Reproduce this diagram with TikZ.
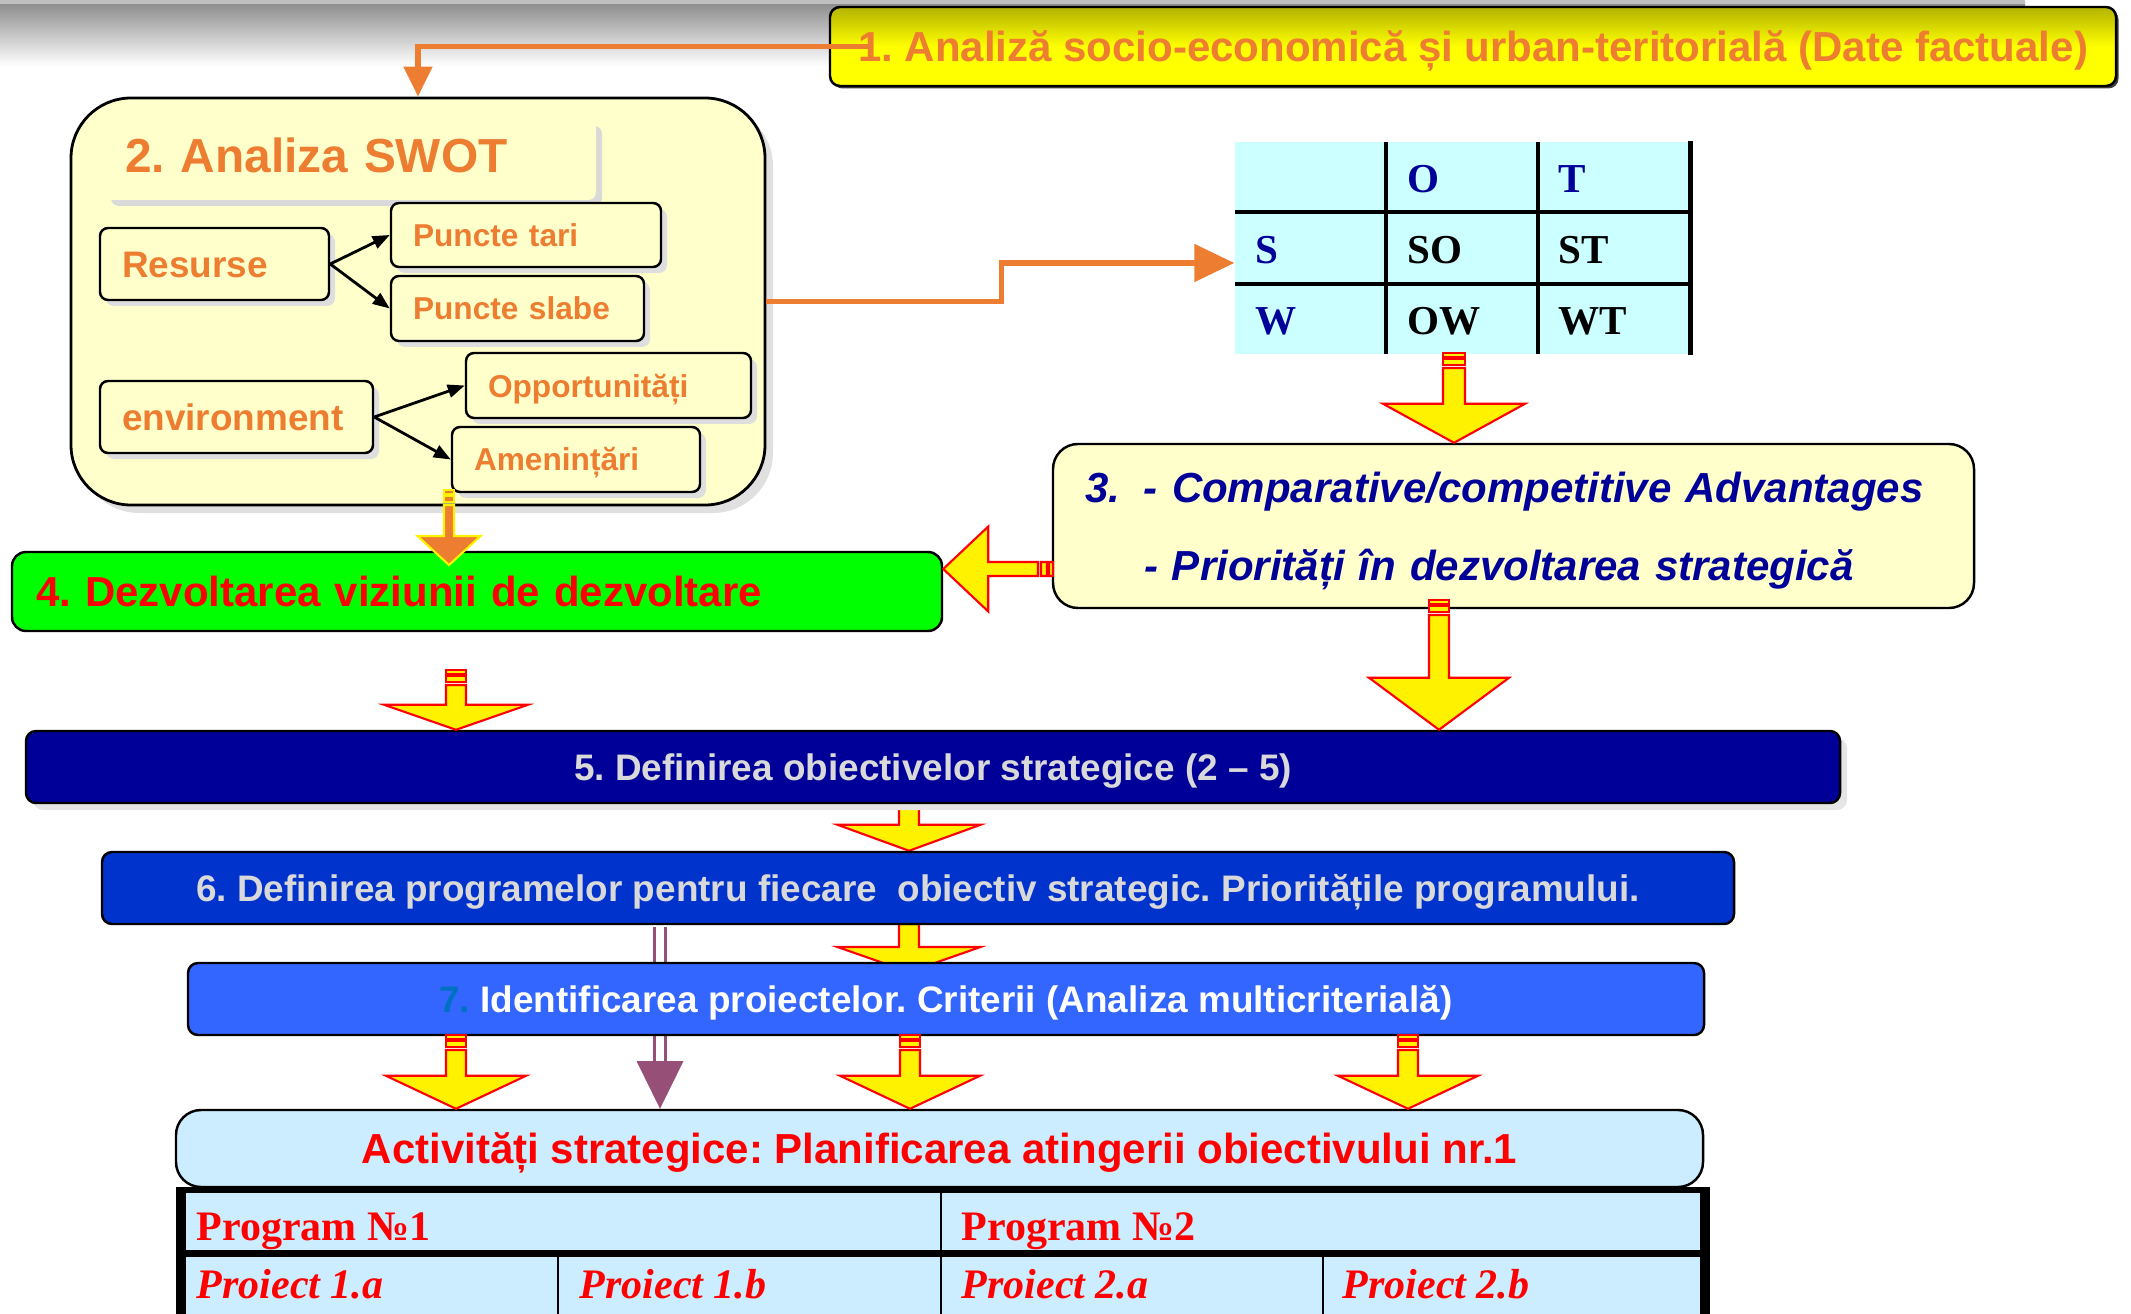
\documentclass[tikz,border=0pt]{standalone}
\usepackage{fontspec}
\setmainfont{Liberation Sans}
\newfontfamily\timesfont{Liberation Serif}
\usetikzlibrary{arrows.meta,shadows,calc}
\frenchspacing

\definecolor{myorange}{RGB}{237,125,49}
\definecolor{mypale}{RGB}{255,255,204}
\definecolor{myolive}{RGB}{178,178,0}
\definecolor{mynavy}{RGB}{0,0,153}
\definecolor{myprog}{RGB}{0,51,204}
\definecolor{myproj}{RGB}{51,102,255}
\definecolor{mysky}{RGB}{204,236,255}
\definecolor{mycyan}{RGB}{204,255,255}
\definecolor{mysilver}{RGB}{217,217,217}
\definecolor{myseven}{RGB}{0,112,192}
\definecolor{mypurple}{RGB}{150,80,120}
\definecolor{mygreen}{RGB}{0,255,0}

\pgfdeclarelayer{back}
\pgfsetlayers{back,main}

% font sizes (1cm = 100px of the slide)
\newcommand{\szA}{\fontsize{11.95}{14.3}\selectfont}
\newcommand{\szB}{\fontsize{10.5}{12.6}\selectfont}
\newcommand{\szC}{\fontsize{13.6}{16.3}\selectfont}
\newcommand{\szD}{\fontsize{9}{10.8}\selectfont}

% block arrow pointing down: style, tail, tip, head length, shaft half width, head half width
\newcommand{\blockdown}[6]{%
  \path[#1] let \p1=(#2), \p2=(#3) in
    (\x1-#5,\y1) -- (\x1-#5,\y2+#4) -- (\x1-#6,\y2+#4) -- (\x1,\y2)
    -- (\x1+#6,\y2+#4) -- (\x1+#5,\y2+#4) -- (\x1+#5,\y1) -- cycle;}
% same, with the striped tail
\newcommand{\stripedown}[6]{%
  \path[#1] let \p1=(#2) in
    (\x1-#5,\y1) rectangle (\x1+#5,\y1-0.04cm)
    (\x1-#5,\y1-0.06cm) rectangle (\x1+#5,\y1-0.12cm);
  \blockdown{#1}{[yshift=-0.15cm]#2}{#3}{#4}{#5}{#6}}

\tikzset{
  headbox/.style={draw=black, line width=0.7pt, rounded corners=0.1cm,
    top color=myolive, bottom color=yellow, middle color=yellow,
    text=myorange, font=\szA\bfseries, inner sep=0pt, text height=0.30cm, text depth=0pt,
    drop shadow={shadow xshift=0.025cm, shadow yshift=-0.025cm, fill=black!75, opacity=1}},
  bigbox/.style={draw=black, line width=0.8pt, rounded corners=0.6cm, fill=mypale,
    drop shadow={shadow xshift=0.08cm, shadow yshift=-0.08cm, fill=black!12, opacity=1}},
  titlebox/.style={fill=mypale, rounded corners=0.08cm, text=myorange, font=\szC\bfseries,
    align=left, inner xsep=0.2cm, inner ysep=0pt, text height=0.26cm, text depth=0pt,
    drop shadow={shadow xshift=0.06cm, shadow yshift=-0.06cm, fill=black!15, opacity=1}},
  factorbox/.style={draw=black, line width=0.7pt, rounded corners=0.08cm, fill=mypale,
    text=myorange, font=\szB\bfseries, align=left, inner xsep=0.22cm, inner ysep=0pt,
    text height=0.265cm, text depth=0pt,
    drop shadow={shadow xshift=0.06cm, shadow yshift=-0.06cm, fill=black!13, opacity=1}},
  smallfactor/.style={factorbox, font=\szD\bfseries, text height=0.23cm},
  advbox/.style={draw=black, line width=0.7pt, rounded corners=0.25cm, fill=mypale,
    text=mynavy, font=\fontsize{11.95}{22.2}\selectfont\bfseries\itshape,
    align=left, inner xsep=0.32cm, inner ysep=0pt, text height=0.30cm, text depth=0.78cm},
  vizbox/.style={draw=black, line width=0.7pt, rounded corners=0.14cm, fill=mygreen,
    text=red, font=\szA\bfseries, align=left, inner xsep=0.24cm, inner ysep=0pt,
    text height=0.30cm, text depth=0pt},
  stepbox/.style={draw=black, line width=0.7pt, rounded corners=0.1cm, font=\szB\bfseries,
    inner sep=0pt, text height=0.265cm, text depth=0pt},
  actbox/.style={draw=black, line width=0.7pt, rounded corners=0.25cm, fill=mysky,
    text=red, font=\szA\bfseries, inner sep=0pt, text height=0.30cm, text depth=0pt},
  swotlet/.style={anchor=base west, inner sep=0pt,
    font=\timesfont\fontsize{11.7}{14}\selectfont\bfseries},
  cell/.style={anchor=base west, inner sep=0pt, text=red,
    font=\timesfont\fontsize{11.95}{14.3}\selectfont\bfseries},
  projcell/.style={cell, font=\timesfont\fontsize{11.95}{14.3}\selectfont\bfseries\itshape},
  orangeline/.style={draw=myorange, line width=1.45pt},
  smallarr/.style={draw=black, line width=0.8pt, -{Triangle[length=0.17cm,width=0.13cm]}},
  yarrow/.style={fill=yellow, draw=red, line width=0.6pt},
  oarrow/.style={fill=myorange, draw=yellow, line width=0.6pt},
  purpleline/.style={draw=mypurple, line width=0.85pt, double=white, double distance=2.5pt},
}

\begin{document}
\begin{tikzpicture}
    \useasboundingbox (0,0) rectangle (21.31,-13.14);

    % shadow band at the top of the slide
    \shade[top color=black!45, bottom color=white] (0,-0.03) rectangle (20.25,-0.66);
    \draw[black!25, line width=1pt] (0,-0.02) -- (20.25,-0.02);

    % 1. factual data
    \node[headbox, minimum width=12.86cm, minimum height=0.79cm] (analiza) at (14.73,-0.465)
        {1. Analiză socio-economică și urban-teritorială (Date factuale)};

    % 2. SWOT block
    \node[bigbox, minimum width=6.94cm, minimum height=4.07cm] (swotbox) at (4.18,-3.015) {};
    \node[titlebox, text width=4.51cm, minimum height=0.8cm] (swottitle) at (3.505,-1.6) {2. Analiza SWOT};
    \node[factorbox, text width=1.85cm, minimum height=0.72cm] (resurse) at (2.145,-2.64) {Resurse};
    \node[factorbox, text width=2.29cm, minimum height=0.72cm] (mediu) at (2.365,-4.17) {environment};
    \node[smallfactor, text width=2.26cm, minimum height=0.64cm] (tari) at (5.26,-2.35) {Puncte tari};
    \node[smallfactor, text width=2.09cm, minimum height=0.65cm] (slabe) at (5.175,-3.085) {Puncte slabe};
    \node[smallfactor, text width=2.41cm, minimum height=0.65cm] (oport) at (6.085,-3.855) {Opportunități};
    \node[smallfactor, text width=2.04cm, minimum height=0.65cm] (amen) at (5.76,-4.595) {Amenințări};

    \draw[smallarr] (resurse.east) -- (tari.west);
    \draw[smallarr] (resurse.east) -- (slabe.west);
    \draw[smallarr] (mediu.east) -- (oport.west);
    \draw[smallarr] (mediu.east) -- (amen.west);

    % SWOT matrix
    \node[fill=mycyan, minimum width=4.55cm, minimum height=2.12cm, inner sep=0pt] (matrix) at (14.625,-2.48) {};
    \draw[line width=0.9pt] (13.86,-1.42) -- (13.86,-3.54);
    \draw[line width=0.9pt] (15.38,-1.42) -- (15.38,-3.54);
    \draw[line width=0.9pt] (12.35,-2.12) -- (16.90,-2.12);
    \draw[line width=0.9pt] (12.35,-2.84) -- (16.90,-2.84);
    \draw[line width=1.5pt] (matrix.north east) -- (matrix.south east);
    \node[swotlet, text=mynavy] (mo) at (14.07,-1.93) {O};
    \node[swotlet, text=mynavy] (mt) at (15.58,-1.93) {T};
    \node[swotlet, text=mynavy] (ms) at (12.55,-2.64) {S};
    \node[swotlet] (mso) at (14.07,-2.64) {SO};
    \node[swotlet] (mst) at (15.58,-2.64) {ST};
    \node[swotlet, text=mynavy] (mw) at (12.55,-3.35) {W};
    \node[swotlet] (mow) at (14.07,-3.35) {OW};
    \node[swotlet] (mwt) at (15.58,-3.35) {WT};

    % 3. advantages, 4. vision
    \node[advbox, text width=8.57cm, minimum height=1.64cm] (avantaje) at (15.135,-5.26)
        {\makebox[0.59cm][l]{3.}- Comparative/competitive Advantages\\
         \hspace*{0.59cm}- Priorități în dezvoltarea strategică};
    \node[vizbox, text width=8.82cm, minimum height=0.79cm] (viziune) at (4.77,-5.915)
        {4. Dezvoltarea viziunii de dezvoltare};

    % 5.-7. steps
    \node[stepbox, fill=mynavy, text=mysilver, minimum width=18.14cm, minimum height=0.72cm,
        drop shadow={shadow xshift=0.07cm, shadow yshift=-0.07cm, fill=black!10, opacity=1}]
        (obiective) at (9.33,-7.67) {5. Definirea obiectivelor strategice (2 – 5)};
    \node[stepbox, fill=myprog, text=mysilver, minimum width=16.32cm, minimum height=0.72cm]
        (programe) at (9.18,-8.88) {6. Definirea programelor pentru fiecare\ \ obiectiv strategic. Prioritățile programului.};
    \node[stepbox, fill=myproj, text=white, minimum width=15.16cm, minimum height=0.72cm]
        (proiecte) at (9.46,-9.99) {\textcolor{myseven}{7.} Identificarea proiectelor. Criterii (Analiza multicriterială)};

    % strategic activities and the table of programmes
    \node[actbox, minimum width=15.27cm, minimum height=0.77cm] (activitati) at (9.395,-11.485)
        {Activități strategice: Planificarea atingerii obiectivului nr.1};
    \fill[mysky] (1.81,-11.90) rectangle (17.05,-13.14);
    \draw[line width=0.7pt] (9.41,-11.90) -- (9.41,-13.14);
    \draw[line width=0.7pt] (5.58,-12.535) -- (5.58,-13.14);
    \draw[line width=0.7pt] (13.23,-12.535) -- (13.23,-13.14);
    \draw[line width=2pt] (1.81,-12.535) -- (17.05,-12.535);
    \draw[line width=1.8pt] (1.76,-11.90) -- (17.10,-11.90);
    \draw[line width=2.6pt] (1.81,-11.87) -- (1.81,-13.14);
    \draw[line width=2.6pt] (17.05,-11.87) -- (17.05,-13.14);
    \node[cell] (prog1) at (1.96,-12.40) {Program №1};
    \node[cell] (prog2) at (9.61,-12.40) {Program №2};
    \node[projcell] (p1a) at (1.96,-12.98) {Proiect 1.a};
    \node[projcell] (p1b) at (5.79,-12.98) {Proiect 1.b};
    \node[projcell] (p2a) at (9.61,-12.98) {Proiect 2.a};
    \node[projcell] (p2b) at (13.42,-12.98) {Proiect 2.b};

    % orange connectors
    \draw[orangeline, -{Triangle[length=0.3cm,width=0.28cm]}] ([xshift=0.4cm]analiza.west) -| (swotbox.north);
    \draw[orangeline, -{Triangle[length=0.4cm,width=0.37cm]}] (swotbox.east) -- ++(2.35,0) |- ([yshift=-0.15cm]matrix.west);

    % tails of the block arrows
    \coordinate (a1) at (14.54,-3.53);
    \coordinate (a2) at (10.53,-5.69);
    \coordinate (a3) at (4.49,-4.90);
    \coordinate (a3e) at (4.49,-5.65);
    \coordinate (a4) at (4.56,-6.70);
    \coordinate (a5) at (14.39,-6.00);
    \coordinate (a6) at (9.09,-8.03);
    \coordinate (a7) at (9.09,-9.24);
    \coordinate (a7e) at (9.09,-9.72);
    \coordinate (a8) at (4.56,-10.35);
    \coordinate (a9) at (9.10,-10.35);
    \coordinate (a10) at (14.08,-10.35);
    \coordinate (pa) at (6.60,-9.27);
    \coordinate (pb) at (6.60,-10.61);

    % arrows hidden behind the boxes
    \begin{pgfonlayer}{back}
        \blockdown{yarrow}{a6}{a6 |- programe.north}{0.26cm}{0.10cm}{0.715cm}
        \blockdown{yarrow}{a7}{a7e}{0.25cm}{0.10cm}{0.715cm}
        \draw[purpleline] (pa) -- (pb);
        \path[fill=mypurple] let \p1=(pb), \p2=(pb |- activitati.north) in
            (\x1-0.235cm,\y1) -- (\x1+0.235cm,\y1) -- (\x2,\y2) -- cycle;
    \end{pgfonlayer}

    % block arrows
    \stripedown{yarrow}{a1}{a1 |- avantaje.north}{0.39cm}{0.11cm}{0.71cm}
    \path[yarrow] let \p1=(a2), \p2=(a2 -| viziune.east) in
        (\x1,\y1-0.07cm) rectangle (\x1-0.04cm,\y1+0.07cm)
        (\x1-0.06cm,\y1-0.07cm) rectangle (\x1-0.12cm,\y1+0.07cm)
        (\x1-0.15cm,\y1-0.07cm) -- (\x2+0.45cm,\y1-0.07cm) -- (\x2+0.45cm,\y1-0.425cm) -- (\x2,\y1)
        -- (\x2+0.45cm,\y1+0.425cm) -- (\x2+0.45cm,\y1+0.07cm) -- (\x1-0.15cm,\y1+0.07cm) -- cycle;
    \stripedown{oarrow}{a3}{a3e}{0.29cm}{0.05cm}{0.315cm}
    \stripedown{yarrow}{a4}{a4 |- obiective.north}{0.25cm}{0.10cm}{0.72cm}
    \stripedown{yarrow}{a5}{a5 |- obiective.north}{0.52cm}{0.10cm}{0.70cm}
    \stripedown{yarrow}{a8}{a8 |- activitati.north}{0.33cm}{0.10cm}{0.70cm}
    \stripedown{yarrow}{a9}{a9 |- activitati.north}{0.33cm}{0.10cm}{0.70cm}
    \stripedown{yarrow}{a10}{a10 |- activitati.north}{0.33cm}{0.10cm}{0.70cm}
\end{tikzpicture}
\end{document}
